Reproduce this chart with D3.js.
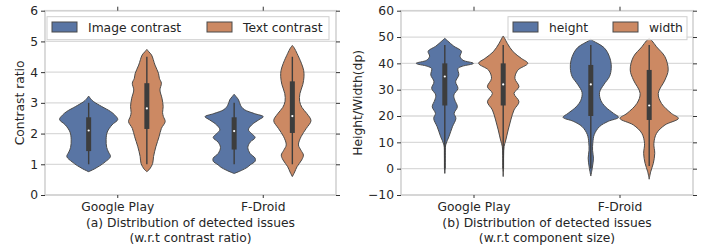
<!DOCTYPE html>
<html>
<head>
<meta charset="utf-8">
<script src="https://cdn.jsdelivr.net/npm/d3@7"></script>
<style>
body { margin: 0; background: #fff; }
svg text { font-family: "DejaVu Sans", sans-serif; fill: #262626; }
</style>
</head>
<body>
<svg id="chart" width="702" height="249"></svg>
<script>
// categories and series
const categories = ["Google Play", "F-Droid"];
const contrastSeries = ["Image contrast", "Text contrast"];
const sizeSeries = ["height", "width"];
const contrastTicks = [0, 1, 2, 3, 4, 5, 6];
const contrastTickLabels = ["0", "1", "2", "3", "4", "5", "6"];
const sizeTicks = [-10, 0, 10, 20, 30, 40, 50, 60];
const sizeTickLabels = ["\u221210", "0", "10", "20", "30", "40", "50", "60"];

// violin outlines: [value, relative half width]
const gpImageProfile = [[0.76,0],[0.85,0.2],[0.95,0.38],[1.08,0.57],[1.25,0.75],[1.4,0.68],[1.55,0.62],[1.8,0.6],[2.05,0.64],[2.28,0.8],[2.46,1.0],[2.6,0.9],[2.72,0.75],[2.88,0.45],[3.04,0.17],[3.12,0.08],[3.22,0]];
const gpTextProfile = [[0.76,0],[0.85,0.1],[1.03,0.2],[1.25,0.23],[1.57,0.31],[1.9,0.42],[2.17,0.5],[2.39,0.63],[2.55,0.57],[2.68,0.54],[2.88,0.56],[3.15,0.52],[3.42,0.45],[3.64,0.5],[3.8,0.43],[3.96,0.4],[4.23,0.28],[4.56,0.16],[4.66,0.07],[4.74,0]];
const fdImageProfile = [[0.7,0],[0.8,0.25],[0.9,0.45],[0.98,0.55],[1.1,0.72],[1.2,0.72],[1.35,0.55],[1.55,0.47],[1.72,0.55],[1.87,0.72],[2.0,0.6],[2.12,0.49],[2.28,0.6],[2.45,0.85],[2.55,1.0],[2.65,0.7],[2.78,0.35],[2.92,0.22],[3.1,0.15],[3.2,0.07],[3.28,0]];
const fdTextProfile = [[0.6,0],[0.75,0.08],[0.92,0.16],[1.14,0.32],[1.3,0.38],[1.45,0.3],[1.63,0.21],[1.9,0.3],[2.17,0.48],[2.42,0.64],[2.65,0.5],[2.85,0.33],[3.05,0.25],[3.3,0.26],[3.6,0.36],[3.85,0.4],[4.05,0.39],[4.29,0.31],[4.61,0.16],[4.78,0.07],[4.87,0]];

const gpHeightProfile = [[-1.8,0],[0,0.012],[5,0.015],[9,0.03],[12.1,0.14],[15.9,0.26],[19.1,0.38],[21,0.32],[23.5,0.43],[26.1,0.34],[28,0.31],[30.5,0.45],[33,0.37],[35.6,0.48],[38,0.45],[38.9,0.6],[40,0.98],[41.2,0.62],[42.7,0.52],[44.6,0.57],[46.5,0.31],[48.5,0.1],[49.5,0]];
const gpWidthProfile = [[-3,0],[0,0.012],[5,0.015],[8.4,0.03],[10.9,0.09],[14.7,0.17],[18.5,0.26],[22.3,0.37],[25.4,0.54],[28.6,0.37],[31.1,0.54],[34.3,0.4],[37.4,0.5],[40,0.84],[41.9,0.62],[44.4,0.34],[47.6,0.14],[49.5,0.05],[50.4,0]];
const fdHeightProfile = [[-2.8,0],[-1,0.03],[1,0.06],[4,0.09],[7,0.06],[10,0.07],[13,0.12],[16,0.3],[18,0.6],[19.5,0.95],[21,0.78],[23.5,0.5],[26,0.34],[29,0.3],[32,0.45],[35,0.64],[38,0.7],[41,0.68],[44,0.58],[46,0.45],[47.5,0.25],[48.5,0.08],[49.2,0]];
const fdWidthProfile = [[-4,0],[-1.2,0.05],[2,0.14],[5.8,0.19],[9.6,0.16],[13.4,0.25],[16.6,0.54],[19.1,1.0],[21,0.76],[24.8,0.42],[28.6,0.31],[33.7,0.54],[37.5,0.65],[42.5,0.54],[46.3,0.25],[48.5,0.1],[49.5,0]];

// box stats: [whisker low, q1, median, q3, whisker high]
const gpImageBox = [1.0, 1.43, 2.1, 2.53, 3.0];
const gpTextBox = [1.0, 2.15, 2.82, 3.64, 4.5];
const fdImageBox = [1.0, 1.48, 2.08, 2.53, 3.0];
const fdTextBox = [1.0, 2.02, 2.57, 3.7, 4.5];
const gpHeightBox = [0, 24, 35, 40, 47];
const gpWidthBox = [0, 24, 32, 40, 47];
const fdHeightBox = [0, 20, 32, 39.4, 47];
const fdWidthBox = [1, 18.5, 24, 37.5, 47];

const colors = ["#5975a4", "#cc8963"];
const svg = d3.select("#chart");

function panel(opt) {
	const g = svg.append("g");
	const x0 = d3.scaleBand().domain(categories).range([opt.left, opt.right]);
	const x1 = d3.scaleBand().domain(opt.series).range([0.1 * x0.bandwidth(), 0.9 * x0.bandwidth()]);
	const y = d3.scaleLinear().domain(opt.domain).range([195, 10.7]);
	const half = x1.bandwidth() / 2;

	// grid
	g.selectAll(".grid").data(opt.ticks).enter().append("line")
		.attr("x1", opt.left).attr("x2", opt.right)
		.attr("y1", d => y(d)).attr("y2", d => y(d))
		.attr("stroke", "#dadada").attr("stroke-width", 1.3);

	// frame
	g.append("rect").attr("x", opt.left).attr("y", y.range()[1])
		.attr("width", opt.right - opt.left).attr("height", y.range()[0] - y.range()[1])
		.attr("fill", "none").attr("stroke", "#d2d2d2").attr("stroke-width", 1.6);

	// violins
	const area = d3.area().curve(d3.curveCatmullRom.alpha(0.5))
		.y(d => y(d[0]));
	categories.forEach((c, ci) => {
		opt.series.forEach((s, si) => {
			const cx = x0(c) + x1(s) + half;
			g.append("path").datum(opt.profiles[ci][si])
				.attr("d", area.x0(d => cx - d[1] * half).x1(d => cx + d[1] * half))
				.attr("fill", colors[si]).attr("stroke", "#4a4a4a").attr("stroke-width", 1);
			const b = opt.boxes[ci][si];
			g.append("line").attr("x1", cx).attr("x2", cx).attr("y1", y(b[0])).attr("y2", y(b[4]))
				.attr("stroke", "#3d3d3d").attr("stroke-width", 1.4);
			g.append("line").attr("x1", cx).attr("x2", cx).attr("y1", y(b[1])).attr("y2", y(b[3]))
				.attr("stroke", "#3d3d3d").attr("stroke-width", 5);
			g.append("circle").attr("cx", cx).attr("cy", y(b[2])).attr("r", 1.1).attr("fill", "#fff");
		});
	});

	// axes
	g.append("g").attr("transform", `translate(${opt.left},0)`)
		.call(d3.axisLeft(y).tickValues(opt.ticks).tickSize(4).tickPadding(3).tickFormat((d, i) => opt.tickLabels[i]))
		.call(a => a.select(".domain").remove())
		.call(a => a.selectAll("line").attr("stroke", "#333"))
		.call(a => a.selectAll("text").style("font-size", "12.3px").style("fill", "#262626"));
	g.append("g").attr("transform", `translate(${opt.right},0)`)
		.call(d3.axisRight(y).tickValues(opt.ticks).tickSize(4).tickFormat(""))
		.call(a => a.select(".domain").remove())
		.call(a => a.selectAll("line").attr("stroke", "#333"));
	g.append("g").attr("transform", `translate(0,${y.range()[0]})`)
		.call(d3.axisBottom(x0).tickSize(3).tickPadding(4))
		.call(a => a.select(".domain").remove())
		.call(a => a.selectAll("line").attr("stroke", "#333"))
		.call(a => a.selectAll("text").style("font-size", "12.3px").style("fill", "#262626"));
	g.append("g").attr("transform", `translate(0,${y.range()[1]})`)
		.call(d3.axisTop(x0).tickSize(4).tickFormat(""))
		.call(a => a.select(".domain").remove())
		.call(a => a.selectAll("line").attr("stroke", "#333"));

	// legend
	const lg = g.append("g");
	lg.append("rect").attr("x", opt.legend.x).attr("y", 16.7)
		.attr("width", opt.legend.w).attr("height", 23)
		.attr("fill", "#fff").attr("fill-opacity", 0.85).attr("stroke", "#cfcfcf").attr("stroke-width", 1);
	opt.series.forEach((s, si) => {
		const px = opt.legend.x + opt.legend.items[si];
		lg.append("rect").attr("x", px).attr("y", 22).attr("width", 25).attr("height", 10)
			.attr("fill", colors[si]).attr("stroke", "#4a4a4a").attr("stroke-width", 1);
		lg.append("text").attr("x", px + 36).attr("y", 32).style("font-size", "12.3px").text(s);
	});

	// labels
	g.append("text").attr("transform", `translate(${opt.ylabelX},${(y.range()[0] + y.range()[1]) / 2}) rotate(-90)`)
		.attr("text-anchor", "middle").style("font-size", "12.3px").text(opt.ylabel);
	const mid = (opt.left + opt.right) / 2;
	opt.xlabel.forEach((t, i) => {
		g.append("text").attr("x", mid).attr("y", 227 + i * 15)
			.attr("text-anchor", "middle").style("font-size", "12.3px").text(t);
	});
}

panel({
	left: 45, right: 336, domain: [0, 6], ticks: contrastTicks, tickLabels: contrastTickLabels, series: contrastSeries,
	profiles: [[gpImageProfile, gpTextProfile], [fdImageProfile, fdTextProfile]],
	boxes: [[gpImageBox, gpTextBox], [fdImageBox, fdTextBox]],
	legend: { x: 47, w: 282, items: [5, 160] },
	ylabel: "Contrast ratio", ylabelX: 24,
	xlabel: ["(a) Distribution of detected issues", "(w.r.t contrast ratio)"]
});
panel({
	left: 401, right: 693, domain: [-10, 60], ticks: sizeTicks, tickLabels: sizeTickLabels, series: sizeSeries,
	profiles: [[gpHeightProfile, gpWidthProfile], [fdHeightProfile, fdWidthProfile]],
	boxes: [[gpHeightBox, gpWidthBox], [fdHeightBox, fdWidthBox]],
	legend: { x: 508, w: 179, items: [5, 105] },
	ylabel: "Height/Width(dp)", ylabelX: 362,
	xlabel: ["(b) Distribution of detected issues", "(w.r.t component size)"]
});
</script>
</body>
</html>
